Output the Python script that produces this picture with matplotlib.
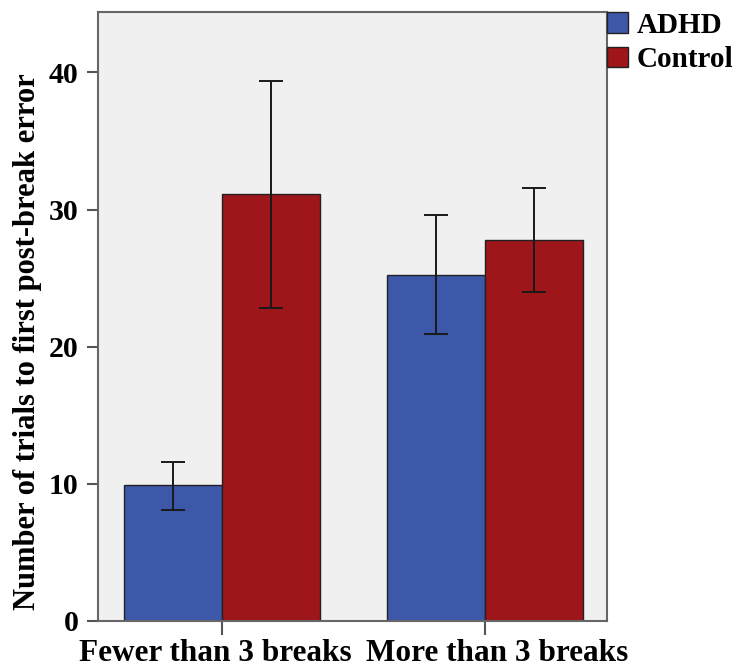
import numpy as np
import matplotlib
matplotlib.use("Agg")
import matplotlib.pyplot as plt
import matplotlib.transforms as mtransforms

# data
categories = ["Fewer than 3 breaks", "More than 3 breaks"]
groups = ["ADHD", "Control"]
adhd_mean = [9.9, 25.2]
adhd_lo = [8.1, 20.9]
adhd_hi = [11.6, 29.6]
control_mean = [31.1, 27.8]
control_lo = [22.8, 24.0]
control_hi = [39.4, 31.6]
yticks = [0, 10, 20, 30, 40]

colors = ["#3d57a9", "#9e151a"]

plt.rcParams['font.family'] = ['Liberation Serif', 'DejaVu Serif']
plt.rcParams['font.weight'] = 'bold'

fig = plt.figure(figsize=(7.33, 6.67), dpi=100)
ax = fig.add_axes([0.1337, 0.069, 0.6944, 0.913])
ax.set_facecolor("#f0f0f0")

x = np.arange(len(categories))
w = 0.3726
means = [adhd_mean, control_mean]
los = [adhd_lo, control_lo]
his = [adhd_hi, control_hi]
for i, g in enumerate(groups):
    pos = x + (i - 0.5) * w
    m = np.array(means[i])
    err = [m - np.array(los[i]), np.array(his[i]) - m]
    ax.bar(pos, m, width=w, color=colors[i], edgecolor="#222222",
           linewidth=1.0, label=g, zorder=2)
    ax.errorbar(pos, m, yerr=err, fmt="none", ecolor="#1a1a1a",
                elinewidth=1.4, capsize=8.6, capthick=1.4, zorder=3)

ax.set_xlim(-0.47, 1.465)
ax.set_ylim(0, 44.4)
ax.set_yticks(yticks)
ax.set_xticks(x)
ax.set_xticklabels(categories)
ax.tick_params(axis='both', color="#555555", width=1.5)
ax.tick_params(axis='y', length=8, pad=6, labelsize=21.5)
ax.tick_params(axis='x', length=10, pad=3, labelsize=22.5)
for s in ax.spines.values():
    s.set_color("#666666")
    s.set_linewidth(1.5)

# nudge category labels apart like in the original
shifts = [-6, 12]
for lab, dx in zip(ax.get_xticklabels(), shifts):
    off = mtransforms.ScaledTranslation(dx / 100, 0, fig.dpi_scale_trans)
    lab.set_transform(lab.get_transform() + off)

ax.set_ylabel("Number of trials to first post-break error", fontsize=22,
              fontweight='bold')
ax.yaxis.set_label_coords(-0.11, 0.458)

ax.legend(loc="upper left", bbox_to_anchor=(0.995, 1.005), frameon=False,
          fontsize=21, handlelength=0.7, handleheight=0.7, handletextpad=0.3,
          borderaxespad=0, labelspacing=0.25, borderpad=0.1)

fig.savefig("out.png", dpi=100)
